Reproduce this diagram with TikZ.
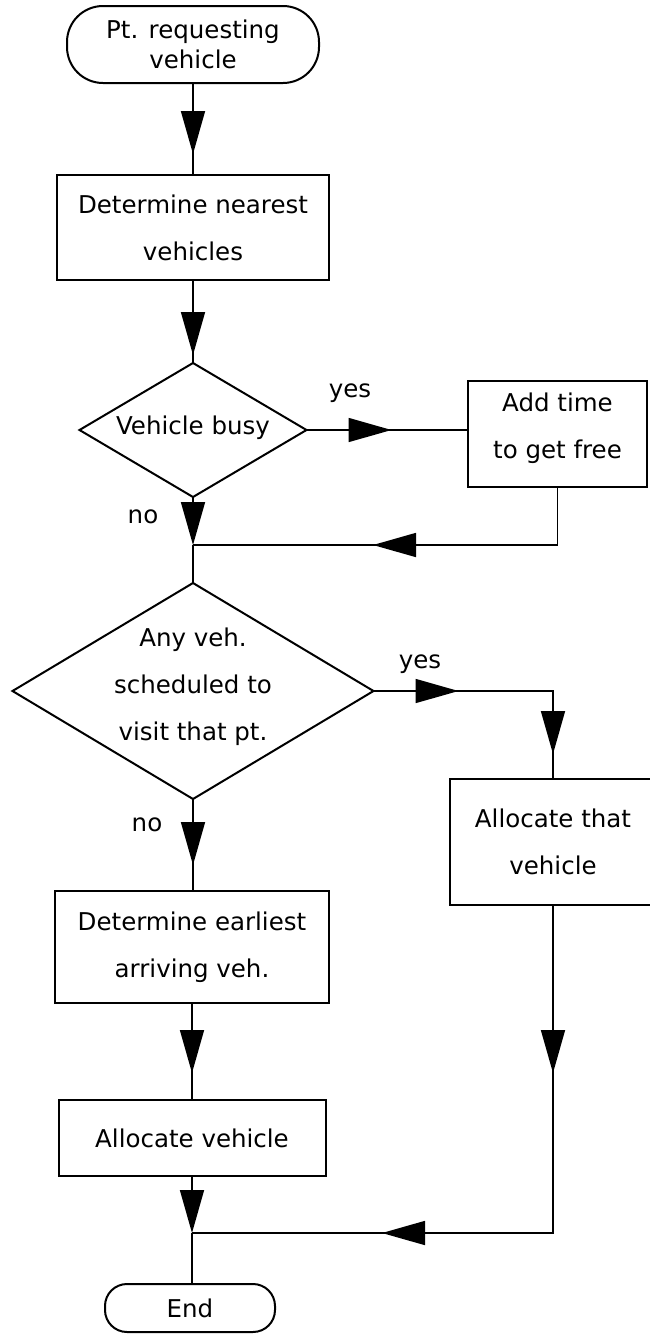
\documentclass[tikz,border=0pt]{standalone}
\usepackage{fontspec}
\setmainfont{DejaVu Sans}
\usetikzlibrary{shapes.geometric,arrows.meta,decorations.markings}

\tikzset{
  flow/.style={line width=1.6pt, draw=black},
  stepbox/.style={draw, rectangle, line width=2pt, inner sep=0pt, outer sep=0pt,
    align=center, font=\fontsize{24.5pt}{47pt}\selectfont},
  term/.style={stepbox, font=\fontsize{24.5pt}{30pt}\selectfont},
  dia/.style={draw, diamond, line width=2pt, inner sep=0pt, outer sep=0pt},
  txt/.style={align=center, inner sep=0pt, font=\fontsize{24.5pt}{47pt}\selectfont},
  bigtip/.tip={Triangle[length=43pt,width=24pt]},
  tipat/.style={postaction={decorate,decoration={markings,
    mark=at position #1 with {\arrow{bigtip}}}}},
  twotips/.style 2 args={postaction={decorate,decoration={markings,
    mark=at position #1 with {\arrow{bigtip}},
    mark=at position #2 with {\arrow{bigtip}}}}}
}

\begin{document}
\begin{tikzpicture}[x=1pt,y=-1pt]
  \useasboundingbox (0,0) rectangle (650,1334);
  \fill[white] (0,0) rectangle (650,1334);

  % main column
  \node[term, minimum width=252pt, minimum height=77pt, rounded corners=36pt]
    (start) at (193,44.5) {Pt. requesting\\vehicle};
  \node[stepbox, minimum width=272pt, minimum height=105pt]
    (near) at (193,227.5) {Determine nearest\\vehicles};
  \node[dia, minimum width=227pt, minimum height=134pt] (busy) at (193,430) {};
  \node[txt] (busyt) at (193,428) {Vehicle busy};
  \node[stepbox, minimum width=179pt, minimum height=106pt]
    (addt) at (557.5,434) {};
  \node[txt] (addtt) at (557.5,428) {Add time\\to get free};
  \coordinate (j1) at (193,545);
  \node[dia, minimum width=361pt, minimum height=216pt] (sched) at (193,691) {};
  \node[txt] (schedt) at (193,687) {Any veh.\\scheduled to\\visit that pt.};
  \node[stepbox, minimum width=206pt, minimum height=126pt]
    (athat) at (553,842) {Allocate that\\vehicle};
  \node[stepbox, minimum width=274pt, minimum height=112pt]
    (early) at (192,947) {Determine earliest\\arriving veh.};
  \node[stepbox, minimum width=267pt, minimum height=76pt]
    (alloc) at (192,1138) {Allocate vehicle};
  \coordinate (j2) at (192,1233);
  \node[term, minimum width=170pt, minimum height=48pt, rounded corners=22pt]
    (fin) at (190,1308) {End};

  % branch labels
  \node[txt] (yes1) at (350,393) {yes};
  \node[txt] (no1) at (143,517) {no};
  \node[txt] (yes2) at (420,664) {yes};
  \node[txt] (no2) at (147,825) {no};

  % connectors
  \draw[flow, tipat=-21pt] (start.south) -- (near.north);
  \draw[flow, tipat=-8pt] (near.south) -- (busy.north);
  \draw[flow, tipat=85pt] (busy.east) -- (addt.west |- busy.east);
  \draw[flow, -{bigtip}] (busy.south) -- (j1);
  \draw[flow, tipat=-180pt] (addt.south) |- (j1);
  \draw[flow] (j1) -- (sched.north);
  \draw[flow, twotips={85pt}{-25pt}] (sched.east) -| (athat.north);
  \draw[flow, tipat=-26pt] (sched.south) -- (sched.south |- early.north);
  \draw[flow, tipat=-27pt] (early.south) -- (alloc.north);
  \draw[flow, -{bigtip}] (alloc.south) -- (j2);
  \draw[flow, twotips={168pt}{-190pt}] (athat.south) |- (j2);
  \draw[flow] (j2) -- (j2 |- fin.north);
\end{tikzpicture}
\end{document}
